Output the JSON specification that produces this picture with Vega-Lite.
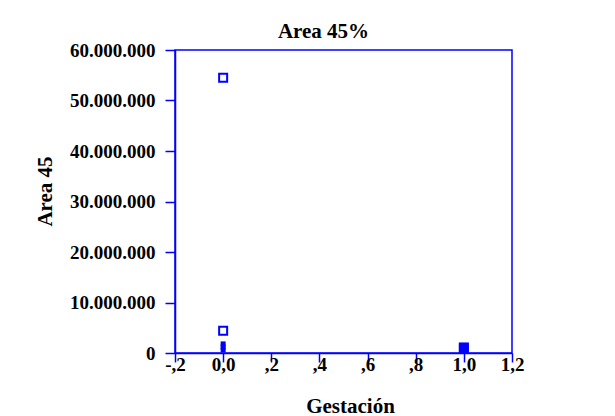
{
  "$schema": "https://vega.github.io/schema/vega-lite/v6.json",
  "autosize": {"type": "none"},
  "width": 337,
  "height": 303,
  "padding": {"left": 175, "top": 50, "right": 103, "bottom": 63},
  "background": "white",
  "title": {
    "text": "Area 45%",
    "font": "Liberation Serif",
    "fontSize": 21,
    "fontWeight": "bold",
    "color": "black",
    "anchor": "middle",
    "frame": "group",
    "dx": -20,
    "dy": 31,
    "baseline": "bottom",
    "offset": 9
  },
  "data": {
    "values": [
      {"gestacion": 0, "area": 54500000, "relleno": "no"},
      {"gestacion": 0, "area": 4400000, "relleno": "no"},
      {"gestacion": 0, "area": 600000, "relleno": "si"},
      {"gestacion": 0, "area": 1200000, "relleno": "si"},
      {"gestacion": 0, "area": 1800000, "relleno": "si"},
      {"gestacion": 1, "area": 900000, "relleno": "si2"},
      {"gestacion": 1, "area": 1100000, "relleno": "si2"}
    ]
  },
  "encoding": {
    "x": {
      "field": "gestacion",
      "type": "quantitative",
      "title": "Gestación",
      "scale": {"domain": [-0.2, 1.2], "nice": false, "zero": false},
      "axis": {
        "values": [-0.2, 0, 0.2, 0.4, 0.6, 0.8, 1.0, 1.2],
        "labelExpr": "datum.value == 0 ? '0,0' : (abs(datum.value) < 1 ? (datum.value < 0 ? '-' : '') + ',' + format(abs(datum.value) * 10, 'd') : replace(format(datum.value, '.1f'), '.', ','))",
        "tickSize": 9,
        "labelPadding": -7,
        "titlePadding": 21,
        "titleFontSize": 21,
        "titleX": 175
      }
    },
    "y": {
      "field": "area",
      "type": "quantitative",
      "title": "Area 45",
      "scale": {"domain": [0, 60000000], "nice": false},
      "axis": {
        "values": [0, 10000000, 20000000, 30000000, 40000000, 50000000, 60000000],
        "labelExpr": "replace(format(datum.value, ','), /,/g, '.')",
        "tickSize": 10,
        "labelPadding": 10,
        "titlePadding": 14,
        "titleFontSize": 21,
        "titleY": 141
      }
    }
  },
  "layer": [
    {
      "transform": [{"filter": "datum.relleno == 'no'"}],
      "mark": {"type": "point", "shape": "square", "filled": false, "size": 64, "stroke": "#0000ff", "strokeWidth": 2, "opacity": 1}
    },
    {
      "transform": [{"filter": "datum.relleno == 'si'"}],
      "mark": {"type": "point", "shape": "square", "filled": true, "size": 25, "color": "#0000ff", "opacity": 1}
    },
    {
      "transform": [{"filter": "datum.relleno == 'si2'"}],
      "mark": {"type": "point", "shape": "square", "filled": true, "size": 100, "color": "#0000ff", "opacity": 1}
    }
  ],
  "config": {
    "view": {"stroke": "#0000ff", "strokeWidth": 1.5},
    "axis": {
      "grid": false,
      "labelFlush": false,
      "labelOverlap": false,
      "domainColor": "#0000ff",
      "domainWidth": 1.5,
      "tickColor": "#0000ff",
      "tickWidth": 1.5,
      "labelFont": "Liberation Serif",
      "labelFontSize": 19,
      "labelFontWeight": "bold",
      "labelColor": "black",
      "titleFont": "Liberation Serif",
      "titleFontSize": 18,
      "titleFontWeight": "bold",
      "titleColor": "black"
    }
  }
}
